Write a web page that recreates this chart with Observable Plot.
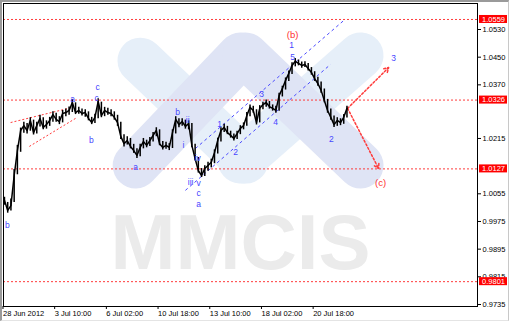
<!DOCTYPE html>
<html><head><meta charset="utf-8">
<script src="https://cdn.jsdelivr.net/npm/d3@7"></script>
<script src="https://cdn.jsdelivr.net/npm/@observablehq/plot@0.6"></script>
<style>
body{margin:0;background:#fff;}
#wrap{position:relative;width:511px;height:323px;overflow:hidden;}
#border{position:absolute;left:0;top:0;width:506px;height:318px;border-top:2px solid #9a9a9a;border-left:2px solid #9a9a9a;border-right:1px solid #c8c8c8;border-bottom:1px solid #e4e4e4;pointer-events:none;}
svg text{font-family:"Liberation Sans",Arial,sans-serif;}
</style></head><body><div id="wrap"><div id="border"></div></div>
<script>
// H4 bars, index 0..106: close, high, low
const closes = [1.0036,1.0007,1.0021,1.0108,1.0180,1.0238,1.0252,1.0238,1.0267,1.0232,
1.0252,1.0273,1.0247,1.0255,1.0267,1.0284,1.0270,1.0264,1.0287,1.0290,
1.0296,1.0319,1.0290,1.0296,1.0287,1.0290,1.0273,1.0261,1.0276,1.0322,
1.0281,1.0296,1.0290,1.0287,1.0276,1.0261,1.0221,1.0200,1.0209,1.0192,
1.0180,1.0166,1.0189,1.0206,1.0195,1.0209,1.0224,1.0238,1.0200,1.0189,
1.0195,1.0189,1.0232,1.0270,1.0255,1.0264,1.0250,1.0258,1.0195,1.0157,
1.0122,1.0108,1.0128,1.0137,1.0146,1.0174,1.0209,1.0238,1.0247,1.0232,
1.0224,1.0215,1.0229,1.0244,1.0252,1.0281,1.0305,1.0296,1.0261,1.0302,
1.0313,1.0319,1.0307,1.0302,1.0296,1.0339,1.0359,1.0383,1.0403,1.0426,
1.0438,1.0432,1.0426,1.0429,1.0417,1.0406,1.0388,1.0374,1.0354,1.0325,
1.0296,1.0276,1.0255,1.0267,1.0261,1.0276,1.0302];
const highs = [1.0045,1.0030,1.0040,1.0125,1.0195,1.0245,1.0262,1.0258,1.0275,1.0268,
1.0262,1.0282,1.0275,1.0266,1.0276,1.0292,1.0288,1.0278,1.0296,1.0300,
1.0306,1.0328,1.0318,1.0305,1.0300,1.0298,1.0292,1.0276,1.0285,1.0330,
1.0320,1.0305,1.0302,1.0298,1.0292,1.0282,1.0262,1.0226,1.0220,1.0215,
1.0198,1.0185,1.0198,1.0215,1.0210,1.0218,1.0232,1.0246,1.0240,1.0206,
1.0204,1.0200,1.0240,1.0278,1.0272,1.0272,1.0268,1.0266,1.0258,1.0198,
1.0160,1.0128,1.0136,1.0146,1.0155,1.0182,1.0216,1.0246,1.0256,1.0250,
1.0236,1.0228,1.0236,1.0252,1.0260,1.0290,1.0312,1.0308,1.0298,1.0310,
1.0320,1.0326,1.0322,1.0312,1.0308,1.0346,1.0366,1.0390,1.0410,1.0434,
1.0446,1.0442,1.0436,1.0437,1.0432,1.0420,1.0408,1.0392,1.0378,1.0358,
1.0328,1.0300,1.0280,1.0275,1.0272,1.0284,1.0308];
const lows = [1.0022,0.9999,1.0005,1.0030,1.0110,1.0175,1.0230,1.0228,1.0236,1.0225,
1.0228,1.0248,1.0240,1.0242,1.0250,1.0262,1.0262,1.0255,1.0260,1.0278,
1.0282,1.0290,1.0284,1.0285,1.0280,1.0276,1.0266,1.0255,1.0258,1.0272,
1.0275,1.0278,1.0282,1.0278,1.0268,1.0250,1.0212,1.0190,1.0196,1.0185,
1.0172,1.0157,1.0162,1.0185,1.0188,1.0192,1.0205,1.0220,1.0194,1.0182,
1.0184,1.0180,1.0186,1.0228,1.0246,1.0250,1.0242,1.0240,1.0188,1.0150,
1.0115,1.0102,1.0105,1.0120,1.0130,1.0142,1.0170,1.0205,1.0232,1.0226,
1.0216,1.0208,1.0212,1.0226,1.0240,1.0250,1.0278,1.0288,1.0254,1.0260,
1.0298,1.0305,1.0300,1.0294,1.0288,1.0294,1.0335,1.0355,1.0380,1.0400,
1.0422,1.0425,1.0418,1.0420,1.0410,1.0398,1.0380,1.0366,1.0346,1.0318,
1.0288,1.0268,1.0247,1.0250,1.0252,1.0256,1.0274];

const xTickIdx = [0,16,32,48,64,80,96];
const xTickLabels = ["28 Jun 2012","3 Jul 10:00","6 Jul 02:00","10 Jul 18:00","13 Jul 10:00","18 Jul 02:00","20 Jul 18:00"];
const yTicks = [1.0530,1.0450,1.0370,1.0215,1.0055,0.9975,0.9895,0.9815,0.9735];
const levels = [1.0559,1.0326,1.0127,0.9801];

// wave labels (blue)
const waveText  = ["a","c","c","b","b","a","b","ii","i","iv","iii","v","c","a","1","2","3","4","5","1","2","3"];
const waveIdx   = [21.1,28.8,28.5,26.9,0.9,40.6,53.6,56.7,55.4,59.8,57.6,60.1,60.1,60.1,66.6,71.5,79.6,83.9,89.2,88.9,101.2,120.4];
const wavePrice = [1.0328,1.0363,1.0330,1.0209,0.9963,1.0131,1.0290,1.0267,1.0195,1.0157,1.0088,1.0086,1.0056,1.0026,1.0255,1.0174,1.0342,1.0261,1.0449,1.0484,1.0212,1.0446];
// wave labels (red)
const redText  = ["(b)","(c)"];
const redIdx   = [89.2,116.4];
const redPrice = [1.0513,1.0085];

// trend lines: [idx1, price1, idx2, price2]
const wedgeLines   = [[1.9,1.0261,21.1,1.0305],[7.7,1.0192,22.0,1.0273]];
const channelLines = [[59.1,1.0186,105.0,1.0556],[56.0,1.0065,100.9,1.0429]];
const projections  = [[106.2,1.0302,118.9,1.0420],[106.2,1.0302,115.8,1.0128]];

// watermark logo bands: [idx1, price1, idx2, price2]
const logoLight    = [[42.1,1.0440,74.6,1.0151],[73.1,1.0151,110.2,1.0455]];
const logoLavender = [[40.6,1.0137,73.1,1.0455],[74.6,1.0455,110.2,1.0137]];
const watermark = ["MMCIS"];

const xDomain = [-0.3,146.4], yDomain = [0.97292,1.06052];
const ux = (xDomain[1]-xDomain[0])/474, uy = (yDomain[1]-yDomain[0])/303;

const bars = closes.map((c,i)=>({i,c,h:highs[i],l:lows[i]}));
const toSeg = a => a.map(([x1,y1,x2,y2])=>({x1,y1,x2,y2}));
const waves = waveText.map((t,k)=>({t,x:waveIdx[k],y:wavePrice[k]}));
const reds = redText.map((t,k)=>({t,x:redIdx[k],y:redPrice[k]}));
const tickLabel = new Map(xTickIdx.map((d,k)=>[d,xTickLabels[k]]));

const chart = Plot.plot({
  width:511, height:323,
  marginLeft:3, marginRight:34, marginTop:3, marginBottom:17,
  x:{domain:xDomain}, y:{domain:yDomain},
  style:{fontFamily:"Liberation Sans, Arial, sans-serif", fontSize:"7.5px", background:"transparent", color:"#000"},
  marks:[
    Plot.link(toSeg(logoLight), {x1:"x1",y1:"y1",x2:"x2",y2:"y2", stroke:"#e6eff9", strokeWidth:46, strokeLinecap:"round"}),
    Plot.link(toSeg(logoLavender), {x1:"x1",y1:"y1",x2:"x2",y2:"y2", stroke:"#dfe4f5", strokeWidth:46, strokeLinecap:"round"}),
    Plot.text(watermark, {text:d=>d, frameAnchor:"middle", dy:89, fontSize:78, fontWeight:"bold", fontFamily:"DejaVu Sans", fill:"#ebebeb"}),
    Plot.ruleY(levels, {stroke:"#ff3b3b", strokeDasharray:"2,2", strokeWidth:1}),
    Plot.link(toSeg(wedgeLines), {x1:"x1",y1:"y1",x2:"x2",y2:"y2", stroke:"#ff3b3b", strokeDasharray:"2,2"}),
    Plot.link(toSeg(channelLines), {x1:"x1",y1:"y1",x2:"x2",y2:"y2", stroke:"#4a4aff", strokeDasharray:"3,3"}),
    Plot.arrow(toSeg(projections), {x1:"x1",y1:"y1",x2:"x2",y2:"y2", stroke:"#ff3b3b", strokeDasharray:"2,2", headLength:5, bend:0}),
    Plot.ruleX(bars, {x:"i", y1:"l", y2:"h", stroke:"#000", strokeWidth:1.5}),
    Plot.line(bars, {x:"i", y:"c", stroke:"#000", strokeWidth:1.5}),
    Plot.text(waves, {x:"x", y:"y", text:"t", fill:"#4646ff", fontSize:8.5}),
    Plot.text(reds, {x:"x", y:"y", text:"t", fill:"#ff3030", fontSize:9.5}),
    Plot.frame({stroke:"#000"}),
    Plot.axisY(yTicks, {anchor:"right", tickSize:3, tickPadding:2, tickFormat:d=>d.toFixed(4), fontSize:7.5}),
    Plot.axisX(xTickIdx, {anchor:"bottom", tickSize:3, tickPadding:1, tickFormat:d=>tickLabel.get(d), textAnchor:"start", dx:-1.5, fontSize:7.5}),
    Plot.rect(levels, {x1:xDomain[1]+2*ux, x2:xDomain[1]+30*ux, y1:d=>d-4*uy, y2:d=>d+4*uy, fill:"#ff0000"}),
    Plot.text(levels, {x:xDomain[1]+16*ux, y:d=>d, text:d=>d.toFixed(4), fill:"#fff", fontSize:7.5})
  ]
});
document.getElementById("wrap").prepend(chart);
</script>
</body></html>
